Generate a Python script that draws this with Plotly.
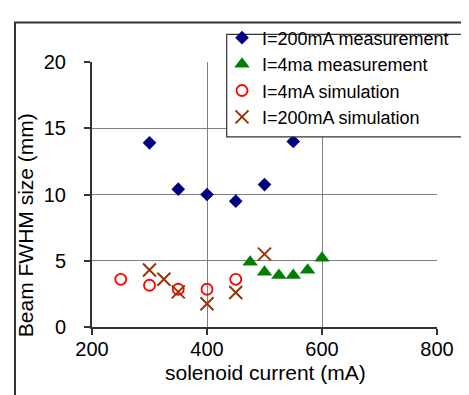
import plotly.graph_objects as go

# Data
meas200_x = [300, 350, 400, 450, 500, 550]
meas200_y = [13.9, 10.4, 10.0, 9.5, 10.75, 14.0]

meas4_x = [475, 500, 525, 550, 575, 600]
meas4_y = [4.9, 4.15, 3.9, 3.9, 4.3, 5.2]

sim4_x = [250, 300, 350, 400, 450]
sim4_y = [3.6, 3.15, 2.85, 2.85, 3.6]

sim200_x = [300, 325, 350, 400, 450, 500]
sim200_y = [4.3, 3.6, 2.65, 1.75, 2.6, 5.5]

x_ticks = [200, 400, 600, 800]
y_ticks = [0, 5, 10, 15, 20]

FONT = "Liberation Sans, Arial, sans-serif"

fig = go.Figure()
fig.add_trace(go.Scatter(x=meas200_x, y=meas200_y, mode="markers", name="I=200mA measurement",
                         marker=dict(symbol="diamond", size=10.5, color="#000080")))
fig.add_trace(go.Scatter(x=meas4_x, y=meas4_y, mode="markers", name="I=4ma measurement",
                         marker=dict(symbol="triangle-up", size=13.5, color="#008000")))
fig.add_trace(go.Scatter(x=sim4_x, y=sim4_y, mode="markers", name="I=4mA simulation",
                         marker=dict(symbol="circle-open", size=11, color="#FF0000",
                                     line=dict(width=1.8, color="#FF0000"))))
fig.add_trace(go.Scatter(x=sim200_x, y=sim200_y, mode="markers", name="I=200mA simulation",
                         marker=dict(symbol="x-thin-open", size=13, color="#993300",
                                     line=dict(width=2, color="#993300"))))

W, H = 469, 395
L, R, T, B = 84, 40, 51, 76
pw, ph = W - L - R, H - T - B

def px(xp):
    return (xp - L) / pw

def py(yp):
    return (H - B - yp) / ph

fig.update_layout(
    width=W, height=H,
    margin=dict(l=L, r=R, t=T, b=B),
    paper_bgcolor="white", plot_bgcolor="white",
    font=dict(family=FONT, size=20, color="black"),
    showlegend=True,
    legend=dict(x=px(214), xanchor="left", y=py(8), yanchor="top",
                bgcolor="rgba(0,0,0,0)", borderwidth=0,
                font=dict(family=FONT, size=18, color="black"),
                itemwidth=30),
    xaxis=dict(range=[200, 800], tickvals=x_ticks, showgrid=True, gridcolor="#808080", gridwidth=1,
               showline=True, linecolor="#333333", linewidth=2, ticks="outside", ticklen=6,
               tickcolor="#333333", tickwidth=1.5, zeroline=False, ticklabelstandoff=-3,
               tickfont=dict(size=20)),
    yaxis=dict(range=[0, 20], tickvals=y_ticks, showgrid=True, gridcolor="#808080", gridwidth=1,
               showline=True, linecolor="#333333", linewidth=2, ticks="outside", ticklen=6,
               tickcolor="#333333", tickwidth=1.5, zeroline=False, ticklabelstandoff=14,
               tickfont=dict(size=20)),
    shapes=[
        dict(type="rect", xref="paper", yref="paper", x0=px(7), x1=px(480), y0=py(400), y1=py(11),
             line=dict(color="#333333", width=2), fillcolor="rgba(0,0,0,0)", layer="below"),
        dict(type="rect", xref="paper", yref="paper", x0=px(218.7), x1=px(480), y0=py(126.7), y1=py(23),
             line=dict(color="#333333", width=1.2), fillcolor="white", layer="above"),
    ],
    annotations=[
        dict(text="Beam FWHM size (mm)", xref="paper", yref="paper", x=px(17), y=py(216),
             xanchor="center", yanchor="middle", textangle=-90, showarrow=False,
             font=dict(family=FONT, size=21, color="black")),
        dict(text="solenoid current (mA)", xref="paper", yref="paper", x=px(257), y=py(365),
             xanchor="center", yanchor="middle", showarrow=False,
             font=dict(family=FONT, size=21, color="black")),
    ],
)

fig.write_html("out.html")
